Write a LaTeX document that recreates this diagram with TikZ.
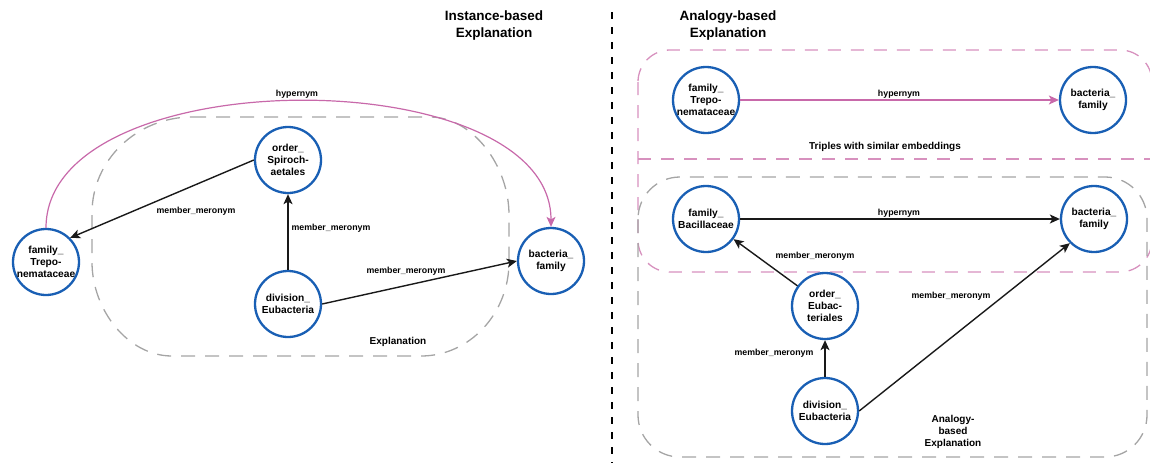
\documentclass[tikz,border=0pt]{standalone}
\usepackage{fontspec}
\setmainfont{Liberation Sans}
\usetikzlibrary{arrows.meta}
\definecolor{nodeblue}{RGB}{25,95,180}
\definecolor{hyper}{RGB}{200,105,170}
\definecolor{pinkdash}{RGB}{215,145,190}
\definecolor{graydash}{RGB}{165,165,165}
\begin{document}
\begin{tikzpicture}[x=1pt,y=-1pt,
  ent/.style={circle, draw=nodeblue, fill=white, line width=2.3pt, minimum size=66pt, inner sep=0pt, align=center, font=\fontsize{10.2}{11.7}\selectfont\bfseries},
  rel/.style={-{Stealth[length=10pt,width=9pt,inset=2.5pt]}, line width=1.4pt, draw=black!90},
  hyp/.style={rel, draw=hyper, line width=1.2pt},
  elabel/.style={font=\fontsize{8.8}{10}\selectfont\bfseries, inner sep=0pt},
  region/.style={font=\fontsize{10}{12}\selectfont\bfseries, align=center, inner sep=0pt},
  titletext/.style={font=\fontsize{13.5}{17}\selectfont\bfseries, align=center, inner sep=0pt},
  graybox/.style={draw=graydash, line width=1.3pt, dash pattern=on 14pt off 10pt},
  pinkbox/.style={draw=pinkdash, line width=1.3pt, dash pattern=on 13pt off 10pt}]
\useasboundingbox (0,0) rectangle (1150,463);

% ---------- left panel ----------
\draw[graybox] (192,117) -- (430,117)
  .. controls (472,117) and (509,165) .. (509,215)
  -- (509,262)
  .. controls (509,313) and (470,356) .. (421,356)
  -- (172,356)
  .. controls (128,356) and (92,310) .. (92,262)
  -- (92,213)
  .. controls (92,160) and (137,117) .. (192,117);
\node[titletext] (tL) at (494,26) {Instance-based\\Explanation};

\node[ent] (famL) at (46,262) {family\_\\Trepo-\\nemataceae};
\node[ent] (ordL) at (288,160) {order\_\\Spiroch-\\aetales};
\node[ent] (divL) at (288,304) {division\_\\Eubacteria};
\node[ent] (bacL) at (551,261) {bacteria\_\\family};

\draw[hyp] (famL.north) .. controls (46,59) and (551,59) .. (bacL.north);
\draw[rel] (ordL.west) -- (famL.north east);
\draw[rel] (divL) -- (ordL);
\draw[rel] (divL.east) -- (bacL.west);

\node[elabel] (l4) at (297,94) {hypernym};
\node[elabel] (l1) at (196,211) {member\_meronym};
\node[elabel] (l2) at (331,228) {member\_meronym};
\node[elabel] (l3) at (406,271) {member\_meronym};
\node[region] (expL) at (398,342) {Explanation};

% ---------- separator ----------
\draw[line width=2.4pt, dash pattern=on 7pt off 8pt] (612,12) -- (612,463);

% ---------- right panel ----------
\node[titletext] (tR) at (728,26) {Analogy-based\\Explanation};
\draw[pinkbox, rounded corners=32pt] (638,50) rectangle (1152,272);
\draw[pinkbox] (638,159) -- (1152,159);
\draw[graybox, rounded corners=42pt] (638,177) rectangle (1147,457);

\node[ent] (famT) at (706,100) {family\_\\Trepo-\\nemataceae};
\node[ent] (bacT) at (1093,100) {bacteria\_\\family};
\node[ent] (famB) at (706,219) {family\_\\Bacillaceae};
\node[ent] (bacB) at (1094,219) {bacteria\_\\family};
\node[ent] (ordE) at (825,306) {order\_\\Eubac-\\teriales};
\node[ent] (divE) at (825,411) {division\_\\Eubacteria};

\draw[hyp] (famT) -- (bacT);
\draw[rel] (famB) -- (bacB);
\draw[rel] (ordE) -- (famB);
\draw[rel] (divE) -- (ordE);
\draw[rel] (divE.east) -- (bacB.south west);

\node[elabel] (r1) at (899,94) {hypernym};
\node[region] (trip) at (885,147) {Triples with similar embeddings};
\node[elabel] (r2) at (899,213) {hypernym};
\node[elabel] (r3) at (815,256) {member\_meronym};
\node[elabel] (r4) at (951,296) {member\_meronym};
\node[elabel] (r5) at (774,353) {member\_meronym};
\node[region] (expR) at (953,432) {Analogy-\\based\\Explanation};
\end{tikzpicture}
\end{document}
